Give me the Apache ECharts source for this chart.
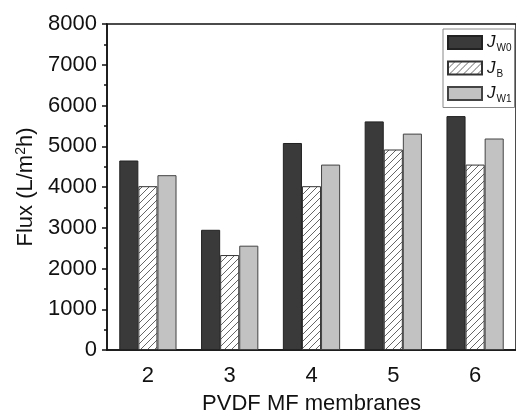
<!DOCTYPE html>
<html>
<head>
<meta charset="utf-8">
<script src="https://cdn.jsdelivr.net/npm/echarts@6/dist/echarts.min.js"></script>
<style>
  html, body { margin: 0; padding: 0; background: #fff; }
  #chart { width: 516px; height: 420px; }
</style>
</head>
<body>
<div id="chart"></div>
<script>
var membranes = ["2", "3", "4", "5", "6"];
var jw0 = [4650, 2950, 5080, 5610, 5740];
var jb = [4020, 2330, 4020, 4920, 4550];
var jw1 = [4290, 2560, 4550, 5310, 5190];
var yTicks = [0, 1000, 2000, 3000, 4000, 5000, 6000, 7000, 8000];

// hatch pattern for J_B
function hatch() {
  var c = document.createElement("canvas");
  c.width = 7;
  c.height = 7;
  var g = c.getContext("2d");
  g.fillStyle = "#fff";
  g.fillRect(0, 0, 7, 7);
  g.strokeStyle = "#555";
  g.lineWidth = 0.9;
  g.beginPath();
  g.moveTo(-1, 8); g.lineTo(8, -1);
  g.moveTo(-8, 8); g.lineTo(1, -1);
  g.moveTo(6, 8); g.lineTo(15, -1);
  g.stroke();
  return c;
}

var font = "Liberation Sans, Arial, sans-serif";
var legendRich = {
  j: { fontFamily: font, fontStyle: "italic", fontSize: 17, color: "#111" },
  s: { fontFamily: font, fontSize: 10, color: "#111", padding: [12, 0, 0, 1] }
};

var chart = echarts.init(document.getElementById("chart"));
chart.setOption({
  animation: false,
  grid: {
    left: 107,
    right: -1,
    top: 24,
    bottom: 62,
    show: true,
    borderColor: "#111",
    borderWidth: 1.5
  },
  legend: {
    orient: "vertical",
    left: 443,
    top: 29,
    width: 66,
    padding: [5, 3, 3, 4],
    itemWidth: 34,
    itemHeight: 13,
    itemGap: 6,
    icon: "rect",
    borderColor: "#888",
    borderWidth: 1,
    backgroundColor: "#fff",
    data: ["W0", "B", "W1"],
    formatter: function (n) { return "{j|J}{s|" + n + "}"; },
    textStyle: { rich: legendRich }
  },
  xAxis: [
    {
      type: "category",
      data: membranes,
      name: "PVDF MF membranes",
      nameLocation: "middle",
      nameGap: 43,
      nameTextStyle: { fontFamily: font, fontSize: 22, color: "#111" },
      axisLine: { lineStyle: { color: "#111", width: 1.5 } },
      axisTick: { alignWithLabel: true, length: 5, lineStyle: { color: "#111", width: 1.5 } },
      axisLabel: { fontFamily: font, fontSize: 22, color: "#111", margin: 15 }
    },
    {
      type: "category",
      data: membranes,
      position: "bottom",
      axisLine: { show: false },
      axisTick: { length: 3, lineStyle: { color: "#111", width: 1.5 } },
      axisLabel: { show: false }
    }
  ],
  yAxis: {
    type: "value",
    min: yTicks[0],
    max: yTicks[yTicks.length - 1],
    interval: 1000,
    name: "{a|Flux (L/m}{s|2}{a|h)}",
    nameLocation: "middle",
    nameGap: 67,
    nameTextStyle: {
      fontFamily: font, fontSize: 22, color: "#111",
      rich: {
        a: { fontFamily: font, fontSize: 22, color: "#111" },
        s: { fontFamily: font, fontSize: 14, color: "#111", padding: [0, 0, 10, 0] }
      }
    },
    axisLine: { show: true, lineStyle: { color: "#111", width: 1.5 } },
    axisTick: { show: true, length: 5, lineStyle: { color: "#111", width: 1.5 } },
    minorTick: { show: true, splitNumber: 2, length: 3, lineStyle: { color: "#111", width: 1.5 } },
    splitLine: { show: false },
    axisLabel: {
      fontFamily: font, fontSize: 22, color: "#111", margin: 10,
      formatter: function (v) { return String(v); }
    }
  },
  series: [
    {
      name: "W0",
      type: "bar",
      data: jw0,
      barGap: "0%",
      barCategoryGap: "30%",
      itemStyle: { color: "#3a3a3a", borderColor: "#222", borderWidth: 1 }
    },
    {
      name: "B",
      type: "bar",
      data: jb,
      itemStyle: { color: { image: hatch(), repeat: "repeat" }, borderColor: "#333", borderWidth: 1 }
    },
    {
      name: "W1",
      type: "bar",
      data: jw1,
      itemStyle: { color: "#c2c2c2", borderColor: "#444", borderWidth: 1 }
    }
  ]
});
</script>
</body>
</html>
